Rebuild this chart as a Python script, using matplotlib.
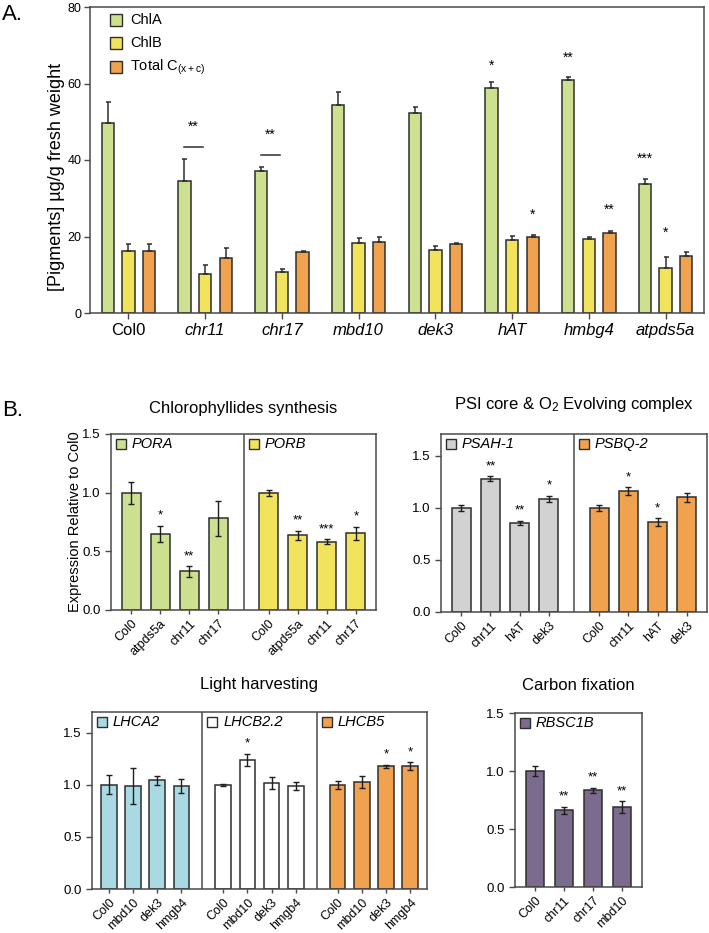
import matplotlib.pyplot as plt
import numpy as np
from matplotlib.ticker import FormatStrFormatter
from matplotlib.transforms import offset_copy

plt.rcParams['font.family'] = ['Liberation Sans', 'DejaVu Sans']
plt.rcParams['mathtext.default'] = 'regular'

# ---- panel A: pigment content (ug/g fresh weight)
genotypes = ['Col0', 'chr11', 'chr17', 'mbd10', 'dek3', 'hAT', 'hmbg4', 'atpds5a']
chla = [49.7, 34.4, 37.0, 54.5, 52.4, 58.9, 60.9, 33.8]
chla_err = [5.4, 5.9, 1.2, 3.3, 1.4, 1.6, 0.8, 1.2]
chlb = [16.2, 10.1, 10.7, 18.3, 16.6, 19.0, 19.3, 11.8]
chlb_err = [1.9, 2.4, 0.8, 1.3, 0.9, 1.1, 0.5, 2.8]
totc = [16.2, 14.5, 15.9, 18.6, 18.0, 20.0, 20.9, 14.8]
totc_err = [1.9, 2.6, 0.2, 1.4, 0.4, 0.5, 0.5, 1.1]

# significance marks in A (group index, series index, text, y)
stars_a_group = [1, 2, 5, 5, 6, 6, 7, 7]
stars_a_series = [0, 0, 0, 2, 0, 2, 0, 1]
stars_a_text = ['**', '**', '*', '*', '**', '**', '***', '*']
stars_a_y = [49.7, 47.5, 65.6, 26.7, 67.8, 27.9, 41.2, 21.8]
bracket_groups = [1, 2]
bracket_y = [43.4, 41.2]

# ---- panel B: expression relative to Col0
chloro_lines = ['Col0', 'atpds5a', 'chr11', 'chr17']
pora = [1.0, 0.648, 0.33, 0.78]
pora_err = [0.095, 0.07, 0.045, 0.146]
pora_sig = ['', '*', '**', '']
porb = [0.994, 0.636, 0.582, 0.653]
porb_err = [0.025, 0.04, 0.02, 0.058]
porb_sig = ['', '**', '***', '*']

psi_lines = ['Col0', 'chr11', 'hAT', 'dek3']
psah = [1.0, 1.279, 0.859, 1.087]
psah_err = [0.025, 0.025, 0.02, 0.03]
psah_sig = ['', '**', '**', '*']
psbq = [1.0, 1.16, 0.865, 1.10]
psbq_err = [0.028, 0.037, 0.037, 0.047]
psbq_sig = ['', '*', '*', '']

lh_lines = ['Col0', 'mbd10', 'dek3', 'hmgb4']
lhca2 = [1.0, 0.99, 1.043, 0.99]
lhca2_err = [0.092, 0.175, 0.045, 0.07]
lhca2_sig = ['', '', '', '']
lhcb22 = [0.998, 1.238, 1.017, 0.99]
lhcb22_err = [0.013, 0.06, 0.058, 0.036]
lhcb22_sig = ['', '*', '', '']
lhcb5 = [0.998, 1.03, 1.177, 1.18]
lhcb5_err = [0.04, 0.058, 0.016, 0.035]
lhcb5_sig = ['', '', '*', '*']

cf_lines = ['Col0', 'chr11', 'chr17', 'mbd10']
rbsc1b = [1.0, 0.663, 0.833, 0.692]
rbsc1b_err = [0.043, 0.03, 0.024, 0.05]
rbsc1b_sig = ['', '**', '**', '**']

green = '#cde08f'
yellow = '#f2e35c'
orange = '#f0a24e'
grey = '#d2d2d2'
blue = '#a9d9e3'
white = '#ffffff'
purple = '#7b6b8f'
edge = '#2e2e2e'
spine = '#4a4a4a'

W, H = 709, 933
fig = plt.figure(figsize=(W / 100, H / 100), dpi=100)


def px_axes(x0, y0, x1, y1):
    ax = fig.add_axes([x0 / W, 1 - y1 / H, (x1 - x0) / W, (y1 - y0) / H])
    for s in ax.spines.values():
        s.set_color(spine)
        s.set_linewidth(1.1)
    ax.tick_params(direction='out', length=4, width=1, color=spine)
    return ax


# ================= panel A =================
axA = px_axes(90, 7, 704, 313)
x = np.arange(len(genotypes))
offsets = [-0.27, 0.0, 0.27]
series = [('ChlA', chla, chla_err, green),
          ('ChlB', chlb, chlb_err, yellow),
          ('Total C$_{(x+c)}$', totc, totc_err, orange)]
for (name, vals, errs, col), off in zip(series, offsets):
    axA.bar(x + off, vals, width=0.16, color=col, edgecolor=edge, linewidth=1.1, zorder=2)
    axA.errorbar(x + off, vals, yerr=[np.zeros(len(vals)), errs], fmt='none',
                 ecolor=edge, elinewidth=1.1, capsize=1.8, capthick=1.1, zorder=3)

for g, yb in zip(bracket_groups, bracket_y):
    axA.plot([g - 0.27, g - 0.03], [yb, yb], color=edge, lw=1.1)

for g, s, t, ys in zip(stars_a_group, stars_a_series, stars_a_text, stars_a_y):
    xs = g - 0.15 if g in bracket_groups else g + offsets[s]
    axA.annotate(t, (xs, ys), xytext=(0, -5.5), textcoords='offset points',
                 ha='center', va='baseline', fontsize=10)

# legend drawn by hand
leg_y = [0.9575, 0.882, 0.804]
for (name, vals, errs, col), ly in zip(series, leg_y):
    axA.plot([0.0423], [ly], marker='s', ms=8.5, mfc=col, mec=edge, mew=1,
             transform=axA.transAxes, clip_on=False)
    axA.text(0.0651, ly, name, transform=axA.transAxes, ha='left', va='center', fontsize=10.5)

axA.set_xlim(-0.5, len(genotypes) - 0.5)
axA.set_ylim(0, 80)
axA.set_yticks([0, 20, 40, 60, 80])
axA.set_xticks(x)
axA.set_xticklabels(genotypes, fontsize=12)
for lab in axA.get_xticklabels():
    if lab.get_text() != 'Col0':
        lab.set_fontstyle('italic')
axA.tick_params(axis='y', labelsize=9, pad=2)
axA.set_ylabel('[Pigments] µg/g fresh weight', fontsize=13)
axA.yaxis.set_label_coords(-0.04, 0.444)

fig.text(2 / W, 1 - 15 / H, 'A.', fontsize=16, ha='left', va='center')
fig.text(2 / W, 1 - 410 / H, 'B.', fontsize=16, ha='left', va='center')

# ================= panel B =================
GAP = 1.72
PAD = 0.69


def expr_panel(box, genes, colors, values, errors, sigs, lines, ylim, title, title_y):
    ax = px_axes(*box)
    n = len(lines)
    step = n - 1 + GAP
    ticks = []
    for g, (gene, col, vals, errs, sig) in enumerate(zip(genes, colors, values, errors, sigs)):
        xs = np.arange(n) + g * step
        ticks.extend(xs)
        ax.bar(xs, vals, width=0.65, color=col, edgecolor=edge, linewidth=1.1, zorder=2)
        ax.errorbar(xs, vals, yerr=errs, fmt='none', ecolor='#1e1e1e', elinewidth=1,
                    capsize=2.5, capthick=1, zorder=3)
        for xi, v, e, s in zip(xs, vals, errs, sig):
            if s:
                ax.annotate(s, (xi, v + e), xytext=(0, 5.0), textcoords='offset points',
                            ha='center', va='baseline', fontsize=9.5)
        start = -PAD if g == 0 else g * step - GAP / 2
        if g > 0:
            ax.axvline(start, color=spine, lw=1.1)
        tr = offset_copy(ax.get_xaxis_transform(), fig=fig, x=10, y=-10, units='dots')
        ax.plot([start], [1], marker='s', ms=7.5, mfc=col, mec=edge, mew=1,
                transform=tr, clip_on=False)
        tr2 = offset_copy(ax.get_xaxis_transform(), fig=fig, x=21, y=-10, units='dots')
        ax.text(start, 1, gene, transform=tr2, ha='left', va='center',
                fontstyle='italic', fontsize=10.5)
    ax.set_xlim(-PAD, (len(genes) - 1) * step + n - 1 + PAD)
    ax.set_ylim(*ylim)
    ax.set_yticks([0, 0.5, 1.0, 1.5])
    ax.yaxis.set_major_formatter(FormatStrFormatter('%.1f'))
    ax.tick_params(axis='y', labelsize=9.5)
    ax.tick_params(axis='x', length=3, pad=2.5)
    ax.set_xticks(ticks)
    ax.set_xticklabels(lines * len(genes), rotation=45, ha='right',
                       rotation_mode='anchor', fontsize=9)
    cx = (box[0] + box[2]) / 2
    fig.text(cx / W, 1 - title_y / H, title, ha='center', va='center', fontsize=12)
    return ax


axC = expr_panel((111, 434, 376, 610), ['PORA', 'PORB'], [green, yellow],
                 [pora, porb], [pora_err, porb_err], [pora_sig, porb_sig],
                 chloro_lines, (0, 1.5), 'Chlorophyllides synthesis', 408)
axC.set_ylabel('Expression Relative to Col0', fontsize=10.5)
axC.yaxis.set_label_coords(-0.11, 0.5)

expr_panel((441, 434, 707, 612), ['PSAH-1', 'PSBQ-2'], [grey, orange],
           [psah, psbq], [psah_err, psbq_err], [psah_sig, psbq_sig],
           psi_lines, (0, 1.71), 'PSI core & O$_2$ Evolving complex', 405)

expr_panel((92, 712, 427, 889), ['LHCA2', 'LHCB2.2', 'LHCB5'], [blue, white, orange],
           [lhca2, lhcb22, lhcb5], [lhca2_err, lhcb22_err, lhcb5_err],
           [lhca2_sig, lhcb22_sig, lhcb5_sig],
           lh_lines, (0, 1.70), 'Light harvesting', 685)

expr_panel((515, 713, 642, 887), ['RBSC1B'], [purple],
           [rbsc1b], [rbsc1b_err], [rbsc1b_sig],
           cf_lines, (0, 1.5), 'Carbon fixation', 686)

fig.savefig('out.png', dpi=100)
